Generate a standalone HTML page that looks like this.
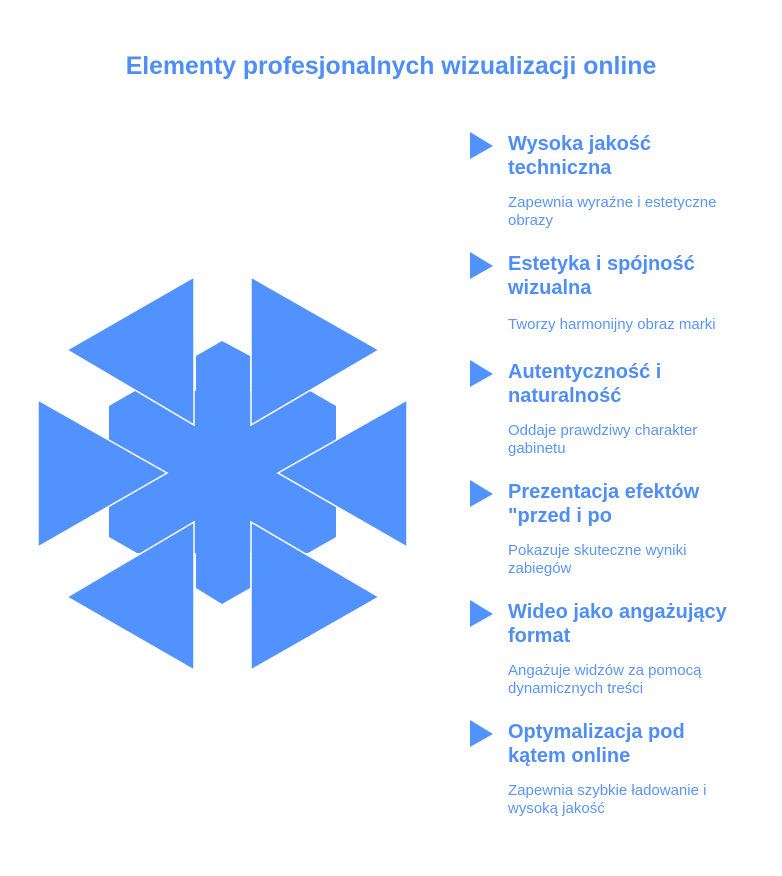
<!DOCTYPE html>
<html><head><meta charset="utf-8"><style>
body{margin:0;width:782px;height:876px;background:#fff;position:relative;font-family:"Liberation Sans",Arial,sans-serif;overflow:hidden}
.t{position:absolute;left:0;width:782px;top:53px;text-align:center;font-weight:bold;font-size:24.8px;color:#4f8ef7}
.h{position:absolute;left:508px;font-weight:bold;font-size:20px;line-height:24px;color:#4f8ef7;width:250px;white-space:nowrap}
.d{position:absolute;left:508px;font-size:15px;line-height:18px;color:#5b95f7;width:250px;white-space:nowrap}
svg{position:absolute;left:0;top:0}
</style></head><body>
<div class="t">Elementy profesjonalnych wizualizacji online</div>
<svg width="782" height="876">
<g fill="#5192fe">
<polygon points="135,391 310,391 336,406 336,537 308,553 137,553 109,537 109,406"/>
<polygon points="196,356 222,341 250,356 250,588 222,604 196,588"/>
</g>
<g fill="#5192fe" stroke="#fff" stroke-width="1.5">
<polygon points="194,277 67,350 194,425"/>
<polygon points="251,277 379,350 251,425"/>
<polygon points="38,400 167,473 38,547"/>
<polygon points="407,400 278,473 407,547"/>
<polygon points="194,522 67,597 194,670"/>
<polygon points="251,522 379,597 251,670"/>
</g>
<g fill="#5192fe">
<polygon points="470,132 493,146 470,159"/>
<polygon points="470,252 493,266 470,279"/>
<polygon points="470,360 493,374 470,387"/>
<polygon points="470,480 493,494 470,507"/>
<polygon points="470,600 493,614 470,627"/>
<polygon points="470,720 493,734 470,747"/>
</g>
</svg>
<div class="h" style="top:132px">Wysoka jakość<br>techniczna</div>
<div class="d" style="top:194px">Zapewnia wyraźne i estetyczne<br>obrazy</div>
<div class="h" style="top:252px">Estetyka i spójność<br>wizualna</div>
<div class="d" style="top:316px">Tworzy harmonijny obraz marki</div>
<div class="h" style="top:360px">Autentyczność i<br>naturalność</div>
<div class="d" style="top:422px">Oddaje prawdziwy charakter<br>gabinetu</div>
<div class="h" style="top:480px">Prezentacja efektów<br>"przed i po</div>
<div class="d" style="top:542px">Pokazuje skuteczne wyniki<br>zabiegów</div>
<div class="h" style="top:600px">Wideo jako angażujący<br>format</div>
<div class="d" style="top:662px">Angażuje widzów za pomocą<br>dynamicznych treści</div>
<div class="h" style="top:720px">Optymalizacja pod<br>kątem online</div>
<div class="d" style="top:782px">Zapewnia szybkie ładowanie i<br>wysoką jakość</div>
</body></html>
